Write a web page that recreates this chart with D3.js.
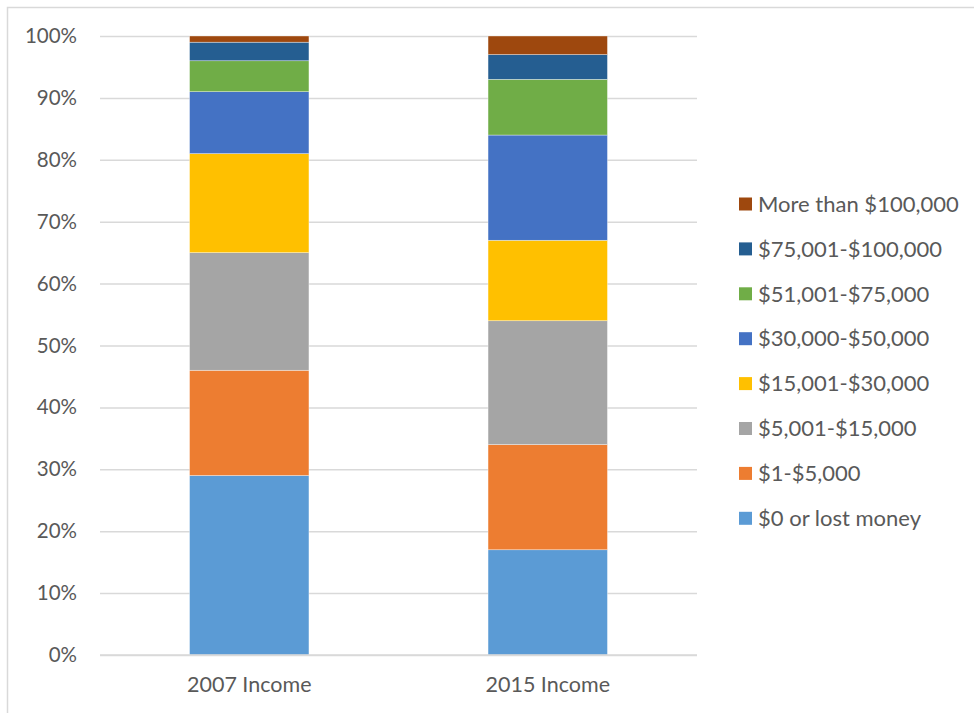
<!DOCTYPE html>
<html>
<head>
<meta charset="utf-8">
<script src="https://cdn.jsdelivr.net/npm/d3@7"></script>
<style>
  html, body { margin: 0; padding: 0; background: #fff; }
  svg { display: block; }
  text { font-family: Lato, "Open Sans", sans-serif; fill: #595959; }
</style>
</head>
<body>
<svg id="chart" width="974" height="713"></svg>
<script>
// Income brackets, bottom of the stack first
const categories = ["2007 Income", "2015 Income"];
const brackets = [
  "$0 or lost money",
  "$1-$5,000",
  "$5,001-$15,000",
  "$15,001-$30,000",
  "$30,000-$50,000",
  "$51,001-$75,000",
  "$75,001-$100,000",
  "More than $100,000"
];
// Share of respondents in each bracket (percent), same order as brackets
const income2007 = [29, 17, 19, 16, 10, 5, 3, 1];
const income2015 = [17, 17, 20, 13, 17, 9, 4, 3];
const colors = ["#5B9BD5", "#ED7D31", "#A5A5A5", "#FFC000", "#4472C4", "#70AD47", "#255E91", "#9E480E"];
const yTicks = [0, 10, 20, 30, 40, 50, 60, 70, 80, 90, 100];

const svg = d3.select("#chart");

// chart frame
svg.append("rect")
  .attr("x", 7.5).attr("y", 7.5)
  .attr("width", 980).attr("height", 720)
  .attr("fill", "none").attr("stroke", "#d9d9d9").attr("stroke-width", 1.5);

const plot = { left: 100, right: 697, top: 36, bottom: 655 };

const x = d3.scaleBand().domain(categories)
  .range([plot.left, plot.right]).paddingInner(0.6).paddingOuter(0.3);
const y = d3.scaleLinear().domain([0, 100]).range([plot.bottom, plot.top]);

// gridlines + y labels
const yAxis = d3.axisLeft(y).tickValues(yTicks)
  .tickSize(-(plot.right - plot.left)).tickPadding(23)
  .tickFormat(d => d + "%");
const gy = svg.append("g").attr("transform", `translate(${plot.left},0)`).call(yAxis);
gy.select(".domain").remove();
gy.selectAll(".tick line").attr("stroke", "#d9d9d9").attr("stroke-width", 1.5);
gy.selectAll(".tick text").attr("font-size", 20.5).attr("fill", "#595959")
  .style("font-family", "Lato, 'Open Sans', sans-serif");

// stacked data
const rows = categories.map((c, i) => {
  const vals = i === 0 ? income2007 : income2015;
  const r = { category: c };
  brackets.forEach((b, j) => r[b] = vals[j]);
  return r;
});
const stack = d3.stack().keys(brackets)(rows);

svg.append("g").selectAll("g").data(stack).join("g")
  .attr("fill", (d, i) => colors[i])
  .selectAll("rect").data(d => d).join("rect")
  .attr("x", d => x(d.data.category))
  .attr("width", x.bandwidth())
  .attr("y", d => y(d[1]))
  .attr("height", d => y(d[0]) - y(d[1]))
  .attr("stroke", "#ffffff").attr("stroke-width", 0.6).attr("stroke-opacity", 0.6);

// baseline
svg.append("line")
  .attr("x1", plot.left).attr("x2", plot.right)
  .attr("y1", plot.bottom).attr("y2", plot.bottom)
  .attr("stroke", "#d9d9d9").attr("stroke-width", 1.5);

// x labels
const xAxis = d3.axisBottom(x).tickSize(0).tickPadding(22);
const gx = svg.append("g").attr("transform", `translate(0,${plot.bottom})`).call(xAxis);
gx.select(".domain").remove();
gx.selectAll(".tick text").attr("font-size", 21.5).attr("fill", "#595959")
  .style("font-family", "Lato, 'Open Sans', sans-serif");

// legend, top entry is the top of the stack
const legendItems = brackets.map((b, i) => ({ label: b, color: colors[i] })).reverse();
const lg = svg.append("g").attr("transform", "translate(739,204)");
const item = lg.selectAll("g").data(legendItems).join("g")
  .attr("transform", (d, i) => `translate(0,${i * 44.9})`);
item.append("rect").attr("x", 0).attr("y", -6.5).attr("width", 13).attr("height", 13)
  .attr("fill", d => d.color);
item.append("text").attr("x", 19).attr("y", 0).attr("dy", "0.35em")
  .attr("font-size", 22).text(d => d.label);
</script>
</body>
</html>
